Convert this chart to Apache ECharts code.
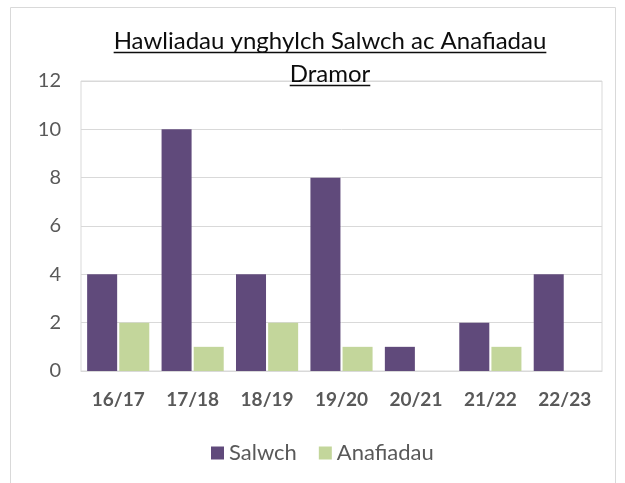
<!DOCTYPE html>
<html>
<head>
<meta charset="utf-8">
<script src="https://cdn.jsdelivr.net/npm/echarts@6/dist/echarts.min.js"></script>
<style>
	html, body { margin: 0; padding: 0; background: #fff; }
	#main { width: 625px; height: 483px; }
</style>
</head>
<body>
<div id="main"></div>
<script>
'use strict';
var categories = ['16/17', '17/18', '18/19', '19/20', '20/21', '21/22', '22/23'];
var salwch = [4, 10, 4, 8, 1, 2, 4];
var anafiadau = [2, 1, 2, 1, 0, 1, 0];
var titleLines = ['Hawliadau ynghylch Salwch ac Anafiadau', 'Dramor'];

(function () {
	var font = 'Lato';
	var titleSize = 24;
	var titleLineH = 33;
	var titleTop = 25;
	var titleX = 330;

	// underline for each title line, width measured from the text itself
	var ctx = document.createElement('canvas').getContext('2d');
	ctx.font = titleSize + 'px ' + font;
	var underlines = titleLines.map(function (t, i) {
		var w = ctx.measureText(t).width;
		var y = Math.round(titleTop + titleLineH * (i + 0.5) + titleSize * 0.35 + 2) + 0.5;
		return {
			type: 'line',
			shape: { x1: titleX - w / 2, y1: y, x2: titleX + w / 2, y2: y },
			style: { stroke: '#0d0d0d', lineWidth: 1.3 }
		};
	});

	var chart = echarts.init(document.getElementById('main'));
	chart.setOption({
		animation: false,
		textStyle: { fontFamily: font },
		title: {
			text: titleLines.join('\n'),
			left: titleX,
			top: titleTop,
			textAlign: 'center',
			padding: 0,
			textStyle: {
				fontFamily: font,
				fontWeight: 'normal',
				fontSize: titleSize,
				lineHeight: titleLineH,
				color: '#0d0d0d'
			}
		},
		graphic: [{
			type: 'rect',
			shape: { x: 10.5, y: 7.5, width: 605, height: 500 },
			style: { fill: 'none', stroke: '#d9d9d9', lineWidth: 1 },
			z: -1
		}].concat(underlines),
		legend: {
			left: 206,
			top: 437,
			itemWidth: 13,
			itemHeight: 13,
			itemGap: 22,
			icon: 'rect',
			textStyle: { fontFamily: font, fontSize: 22, color: '#595959' },
			data: ['Salwch', 'Anafiadau']
		},
		grid: {
			left: 81,
			right: 23,
			top: 81,
			bottom: 112,
			show: true,
			borderColor: '#d9d9d9',
			borderWidth: 1
		},
		xAxis: {
			type: 'category',
			data: categories,
			axisTick: { show: false },
			axisLine: { lineStyle: { color: '#d9d9d9' } },
			axisLabel: {
				fontFamily: font,
				fontSize: 19,
				fontWeight: 'bold',
				color: '#595959',
				margin: 19
			}
		},
		yAxis: {
			type: 'value',
			min: 0,
			max: 12,
			interval: 2,
			axisLine: { show: false },
			axisTick: { show: false },
			splitLine: { lineStyle: { color: '#d9d9d9' } },
			axisLabel: {
				fontFamily: font,
				fontSize: 20,
				color: '#595959',
				margin: 20
			}
		},
		series: [{
			name: 'Salwch',
			type: 'bar',
			data: salwch,
			barGap: '7%',
			barCategoryGap: '16.5%',
			itemStyle: { color: '#604a7b' }
		}, {
			name: 'Anafiadau',
			type: 'bar',
			data: anafiadau,
			itemStyle: { color: '#c3d69b' }
		}]
	});
})();
</script>
</body>
</html>
